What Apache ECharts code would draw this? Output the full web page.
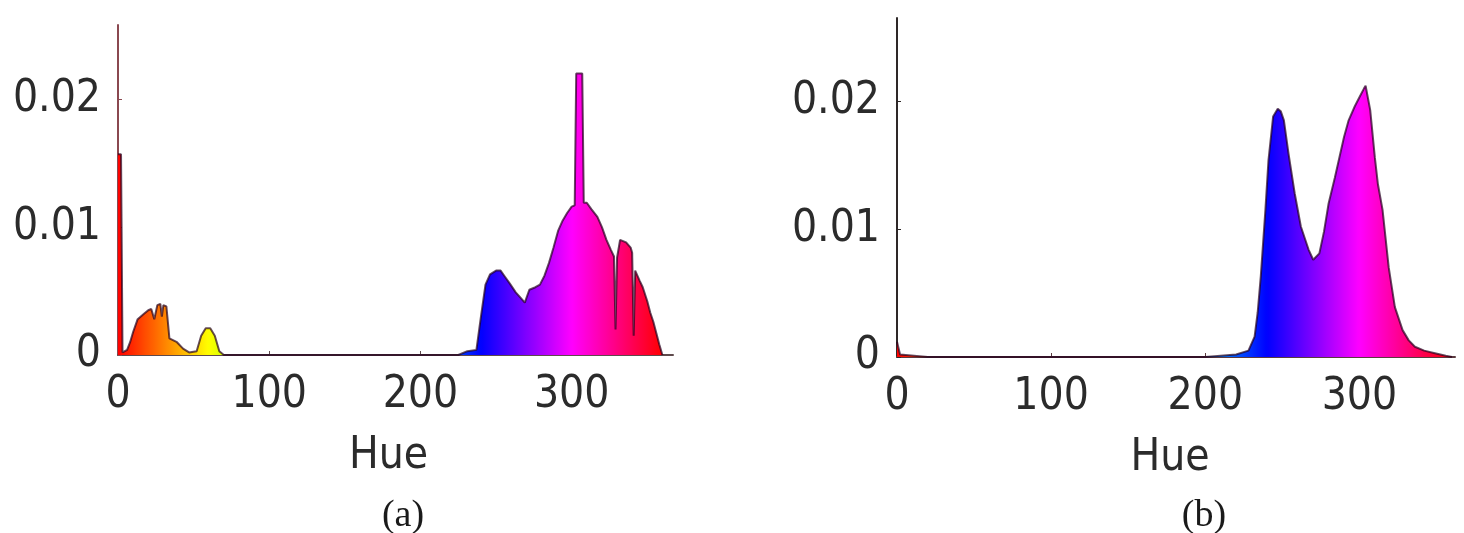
<!DOCTYPE html>
<html>
<head>
<meta charset="utf-8">
<script src="https://cdn.jsdelivr.net/npm/echarts@6/dist/echarts.min.js"></script>
<style>
  html, body { margin: 0; padding: 0; background: #ffffff; }
  #chart { width: 1464px; height: 533px; }
</style>
</head>
<body>
<div id="chart"></div>
<script>
// Hue histograms (normalised counts per hue value, 0..360 degrees)

// Panel (a)
const huesA = [0, 2, 3, 6, 8, 10, 13, 17, 20, 22, 24, 26, 28, 29, 30, 32, 34, 39, 43, 47,
  52, 55, 58, 61, 64, 67, 70, 120, 200, 225, 231, 237, 240, 243, 246, 250, 253, 256, 259,
  263, 266, 269, 272, 276, 279, 282, 285, 288, 291, 294, 297, 300, 302, 303, 307, 308, 310,
  313, 317, 320, 323, 326, 328, 329, 330, 332, 336, 339, 340, 341, 342, 345, 347, 350, 352,
  354, 356, 358, 360];
const densityA = [0.0157, 0.0157, 0.0002, 0.0004, 0.0010, 0.0018, 0.0028, 0.0032, 0.0035, 0.0036,
  0.0028, 0.0039, 0.0040, 0.0030, 0.0039, 0.0038, 0.0013, 0.0010, 0.0005, 0.0002,
  0.0003, 0.0015, 0.0021, 0.0021, 0.0015, 0.0003, 0.0000, 0.0000, 0.0000, 0.0000, 0.0003, 0.0004,
  0.0030, 0.0055, 0.0063, 0.0066, 0.0066, 0.0061, 0.0056,
  0.0049, 0.0045, 0.0041, 0.0051, 0.0053, 0.0055, 0.0062, 0.0072, 0.0084, 0.0097, 0.0105, 0.0111,
  0.0116, 0.0117, 0.0220, 0.0220, 0.0119, 0.0119,
  0.0114, 0.0108, 0.0100, 0.0090, 0.0082, 0.0077, 0.0020, 0.0076, 0.0090, 0.0088, 0.0084, 0.0080,
  0.0015, 0.0066, 0.0058, 0.0053, 0.0042, 0.0033,
  0.0026, 0.0017, 0.0008, 0.0000];

// Panel (b)
const huesB = [0, 1, 2, 20, 100, 200, 220, 228, 232, 234, 236, 239, 241, 244, 247, 249, 251, 254,
  258, 262, 267, 270, 274, 277, 280, 284, 287, 290, 293, 297, 300, 303, 304, 307, 310, 312, 315,
  319, 323, 328, 332, 336, 342, 349, 356, 360];
const densityB = [0.0012, 0.0012, 0.0002, 0.0000, 0.0000, 0.0000, 0.0002, 0.0005, 0.0016, 0.0035,
  0.0063, 0.0115, 0.0154, 0.0188, 0.0194, 0.0192, 0.0185, 0.0159,
  0.0128, 0.0102, 0.0084, 0.0076, 0.0081, 0.0098, 0.0120, 0.0140, 0.0156, 0.0172, 0.0185, 0.0196,
  0.0203, 0.0210, 0.0212, 0.0193, 0.0156, 0.0135, 0.0115,
  0.0070, 0.0039, 0.0021, 0.0013, 0.0008, 0.0005, 0.0003, 0.0001, 0.0000];

const hueStep = 100;
const densityStep = 0.01;
const axisTitle = 'Hue';
const captions = ['(a)', '(b)'];

// Colour wheel stops: 0 red, 60 yellow, 120 green, 180 cyan, 240 blue, 300 magenta, 360 red
const hueWheel = ['#ff0000', '#ffff00', '#00ff00', '#00ffff', '#0000ff', '#ff00ff', '#ff0000'];

const zip = (xs, ys) => xs.map((x, i) => [x, ys[i]]);

const tickFont = {
  fontFamily: '"Liberation Sans Narrow", "DejaVu Sans Condensed", "Liberation Sans", sans-serif',
  fontSize: 44,
  color: '#2b2b2b'
};

function xAxisFor(gridIndex, max, lineColor, namePad) {
  return {
    type: 'value', gridIndex, min: 0, max, interval: hueStep,
    name: axisTitle, nameLocation: 'middle', nameGap: 80,
    nameTextStyle: Object.assign({}, tickFont, { padding: namePad }),
    axisLine: { show: true, onZero: false, lineStyle: { color: lineColor, width: 2 } },
    axisTick: { show: true, inside: true, length: 4, lineStyle: { color: lineColor } },
    splitLine: { show: false },
    axisLabel: Object.assign({}, tickFont, { margin: 19, showMaxLabel: false })
  };
}

function yAxisFor(gridIndex, max, lineColor) {
  return {
    type: 'value', gridIndex, min: 0, max, interval: densityStep,
    axisLine: { show: true, onZero: false, lineStyle: { color: lineColor, width: 2 } },
    axisTick: { show: true, inside: true, length: 4, lineStyle: { color: lineColor } },
    splitLine: { show: false },
    axisLabel: Object.assign({}, tickFont, {
      margin: 17, showMaxLabel: false,
      formatter: v => (v === 0 ? '0' : v.toFixed(2))
    })
  };
}

const fillSeries = (i, data) => ({
  type: 'line', xAxisIndex: i, yAxisIndex: i, data,
  symbol: 'none', silent: true,
  lineStyle: { width: 0 },
  areaStyle: { opacity: 1 },
  z: 2
});

const edgeSeries = (i, data) => ({
  type: 'line', xAxisIndex: i, yAxisIndex: i, data,
  symbol: 'none', silent: true,
  lineStyle: { width: 2, color: 'rgba(35, 0, 30, 0.7)' },
  z: 3
});

const chart = echarts.init(document.getElementById('chart'), null, { renderer: 'canvas' });

chart.setOption({
  backgroundColor: '#ffffff',
  animation: false,
  grid: [
    { left: 118, top: 25, width: 555, height: 330 },
    { left: 897, top: 18, width: 558, height: 339 }
  ],
  xAxis: [
    xAxisFor(0, 367, '#5e4a4c', [0, 14, 0, 0]),
    xAxisFor(1, 362, '#5a3a3e', [0, 12, 0, 0])
  ],
  yAxis: [
    yAxisFor(0, 0.0258, '#8a4850'),
    yAxisFor(1, 0.0265, '#2e2828')
  ],
  visualMap: [{
    type: 'continuous', show: false, dimension: 0, seriesIndex: [0, 2],
    min: 0, max: 360, inRange: { color: hueWheel }
  }],
  series: [
    fillSeries(0, zip(huesA, densityA)),
    edgeSeries(0, zip(huesA, densityA)),
    fillSeries(1, zip(huesB, densityB)),
    edgeSeries(1, zip(huesB, densityB))
  ],
  graphic: [
    { type: 'text', x: 403, y: 516, silent: true,
      style: { text: captions[0], align: 'center', verticalAlign: 'middle',
        font: '38px "Liberation Serif", "Times New Roman", serif', fill: '#1a1a1a' } },
    { type: 'text', x: 1204, y: 516, silent: true,
      style: { text: captions[1], align: 'center', verticalAlign: 'middle',
        font: '38px "Liberation Serif", "Times New Roman", serif', fill: '#1a1a1a' } }
  ]
});
</script>
</body>
</html>
